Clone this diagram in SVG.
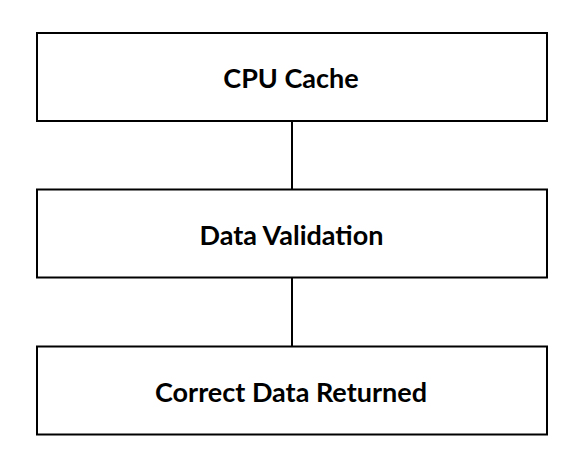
<svg xmlns="http://www.w3.org/2000/svg" width="580" height="468" viewBox="0 0 580 468">
<style>
.box{fill:#fff;stroke:#000;stroke-width:2}
.lbl{font-family:Lato,"Liberation Sans",sans-serif;font-weight:bold;font-size:27px;fill:#000;text-anchor:middle}
.edge{stroke:#000;stroke-width:2;fill:none}
</style>
<rect width="580" height="468" fill="#fff"/>
<g id="connectors">
<line class="edge" x1="292" y1="121" x2="292" y2="189.5"/>
<line class="edge" x1="292" y1="277.5" x2="292" y2="346.5"/>
</g>
<g id="node-cpu-cache">
<rect class="box" x="37" y="33" width="510" height="88"/>
<text class="lbl" x="291" y="88">CPU Cache</text>
</g>
<g id="node-data-validation">
<rect class="box" x="37" y="189.5" width="510" height="88"/>
<text class="lbl" x="291.5" y="245">Data Validation</text>
</g>
<g id="node-correct-data-returned">
<rect class="box" x="37" y="346.5" width="510" height="88"/>
<text class="lbl" x="291" y="402">Correct Data Returned</text>
</g>
</svg>
